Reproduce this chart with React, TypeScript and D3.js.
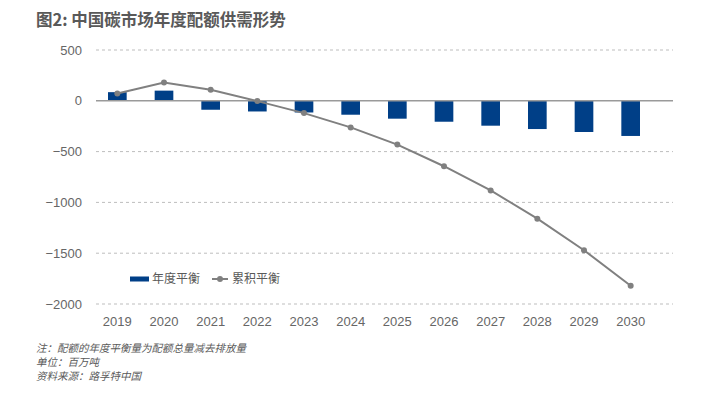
import React, { useRef, useEffect } from "react";
import * as d3 from "d3";

const years = ["2019", "2020", "2021", "2022", "2023", "2024", "2025", "2026", "2027", "2028", "2029", "2030"];
const annual = [85, 100, -88, -105, -115, -137, -176, -206, -245, -278, -307, -346];
const cumulative = [72, 180, 108, -3, -121, -262, -431, -644, -882, -1160, -1471, -1820];
const yTicks = [500, 0, -500, -1000, -1500, -2000];
const notes = ["注：配额的年度平衡量为配额总量减去排放量", "单位：百万吨", "资料来源：路孚特中国"];

const App = () => {
    const svgRef = useRef<SVGSVGElement>(null);

    useEffect(() => {
        const svg = d3.select(svgRef.current);
        svg.selectAll("*").remove();
        const font = "'Noto Sans CJK SC', 'Liberation Sans', sans-serif";
        const numFont = "'Liberation Sans', Arial, sans-serif";
        const grey = "#595959";

        const x = d3.scaleBand().domain(years).range([94, 654]).paddingInner(0.6).paddingOuter(0.3);
        const y = d3.scaleLinear().domain([-2000, 500]).range([304, 50]);
        const gridX1 = 96, gridX2 = 673;

        // title
        svg.append("text")
            .attr("x", 36).attr("y", 26)
            .attr("font-family", font).attr("font-size", 16.5).attr("font-weight", "bold")
            .attr("fill", grey)
            .text("图2: 中国碳市场年度配额供需形势");

        // gridlines
        svg.append("g").selectAll("line")
            .data(yTicks.filter((d) => d !== 0))
            .enter().append("line")
            .attr("x1", gridX1).attr("x2", gridX2)
            .attr("y1", (d) => y(d)).attr("y2", (d) => y(d))
            .attr("stroke", "#bdbdbd").attr("stroke-width", 1)
            .attr("stroke-dasharray", "3,3");

        // y labels
        svg.append("g").selectAll("text")
            .data(yTicks)
            .enter().append("text")
            .attr("x", 82).attr("y", (d) => y(d))
            .attr("dy", "0.35em").attr("text-anchor", "end")
            .attr("font-family", numFont).attr("font-size", 13).attr("fill", "#666")
            .text((d) => (d < 0 ? "\u2212" + Math.abs(d) : String(d)));

        // bars
        svg.append("g").selectAll("rect")
            .data(annual)
            .enter().append("rect")
            .attr("x", (d, i) => x(years[i])!)
            .attr("width", x.bandwidth())
            .attr("y", (d) => y(Math.max(0, d)))
            .attr("height", (d) => Math.abs(y(d) - y(0)))
            .attr("fill", "#003f87");

        // zero line
        svg.append("line")
            .attr("x1", gridX1).attr("x2", gridX2)
            .attr("y1", y(0)).attr("y2", y(0))
            .attr("stroke", "#9a9a9a").attr("stroke-width", 1.5);

        // cumulative line
        const cx = (i: number) => x(years[i])! + x.bandwidth() / 2;
        const line = d3.line<number>().x((d, i) => cx(i)).y((d) => y(d));
        svg.append("path")
            .datum(cumulative)
            .attr("d", line)
            .attr("fill", "none").attr("stroke", "#808080").attr("stroke-width", 2);
        svg.append("g").selectAll("circle")
            .data(cumulative)
            .enter().append("circle")
            .attr("cx", (d, i) => cx(i)).attr("cy", (d) => y(d))
            .attr("r", 3).attr("fill", "#808080");

        // x labels
        svg.append("g").selectAll("text")
            .data(years)
            .enter().append("text")
            .attr("x", (d, i) => cx(i)).attr("y", 321)
            .attr("dy", "0.35em").attr("text-anchor", "middle")
            .attr("font-family", numFont).attr("font-size", 13).attr("fill", "#666")
            .text((d) => d);

        // legend
        const lg = svg.append("g");
        lg.append("rect").attr("x", 130).attr("y", 276.5).attr("width", 19).attr("height", 5).attr("fill", "#003f87");
        lg.append("text").attr("x", 152).attr("y", 279).attr("dy", "0.35em")
            .attr("font-family", font).attr("font-size", 12).attr("fill", grey).text("年度平衡");
        lg.append("line").attr("x1", 212).attr("x2", 228).attr("y1", 279).attr("y2", 279)
            .attr("stroke", "#808080").attr("stroke-width", 2);
        lg.append("circle").attr("cx", 220).attr("cy", 279).attr("r", 3).attr("fill", "#808080");
        lg.append("text").attr("x", 232).attr("y", 279).attr("dy", "0.35em")
            .attr("font-family", font).attr("font-size", 12).attr("fill", grey).text("累积平衡");

        // notes
        svg.append("g").selectAll("text")
            .data(notes)
            .enter().append("text")
            .attr("x", 36).attr("y", (d, i) => 348 + i * 14)
            .attr("dy", "0.35em")
            .attr("font-family", font).attr("font-size", 10.5).attr("font-style", "italic")
            .attr("fill", grey)
            .text((d) => d);
    }, []);

    return (
        <svg ref={svgRef} width={710} height={393} style={{ display: "block", position: "absolute", left: 0, top: 0, background: "#fff" }}></svg>
    );
};

export default App;
